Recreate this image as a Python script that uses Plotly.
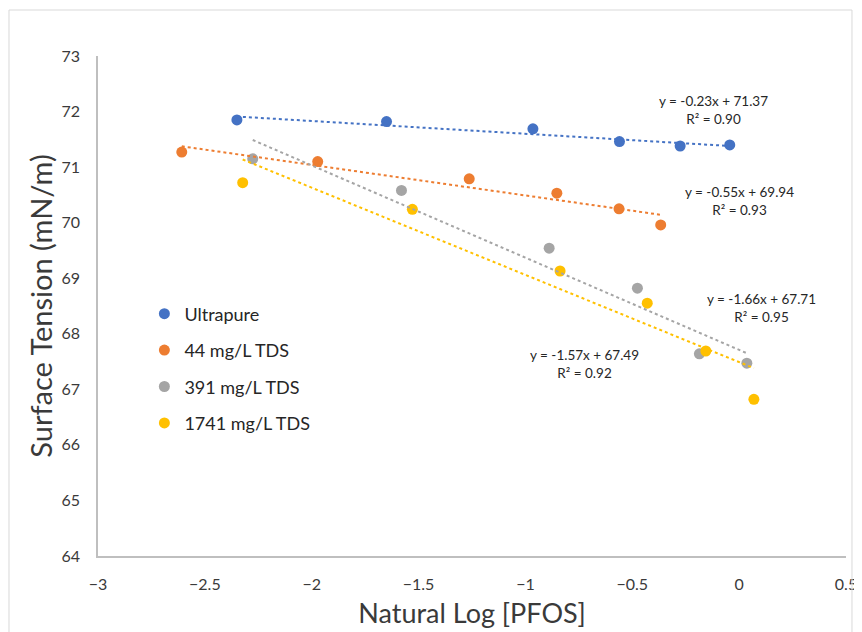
import numpy as np
import plotly.graph_objects as go

# dados
series_names = ["Ultrapure", "44 mg/L TDS", "391 mg/L TDS", "1741 mg/L TDS"]
series_colors = ["#4472C4", "#ED7D31", "#A5A5A5", "#FFC000"]

x_ultrapure = [-2.35, -1.65, -0.965, -0.56, -0.276, -0.044]
y_ultrapure = [71.85, 71.82, 71.69, 71.46, 71.38, 71.40]

x_44 = [-2.608, -1.972, -1.263, -0.853, -0.562, -0.367]
y_44 = [71.27, 71.10, 70.79, 70.53, 70.25, 69.96]

x_391 = [-2.276, -1.580, -0.889, -0.476, -0.186, 0.036]
y_391 = [71.15, 70.58, 69.54, 68.82, 67.64, 67.47]

x_1741 = [-2.323, -1.529, -0.838, -0.430, -0.156, 0.069]
y_1741 = [70.72, 70.24, 69.13, 68.55, 67.69, 66.82]

# equacoes das linhas de tendencia (rotulos do grafico)
slopes = [-0.23, -0.55, -1.66, -1.57]
intercepts = [71.37, 69.94, 67.71, 67.49]
r2_values = ["0.90", "0.93", "0.95", "0.92"]
label_x = [-0.12, 0.0, 0.103, -0.725]
label_y = [72.03, 70.39, 68.47, 67.46]

xs = [x_ultrapure, x_44, x_391, x_1741]
ys = [y_ultrapure, y_44, y_391, y_1741]

FONT = "Lato, 'Open Sans', sans-serif"
TEXT = "#3a3a3a"

fig = go.Figure()

for i, name in enumerate(series_names):
    fig.add_trace(go.Scatter(
        x=xs[i], y=ys[i], mode="markers", name=name,
        legendgroup=name,
        marker=dict(color=series_colors[i], size=11),
    ))

for i, name in enumerate(series_names):
    # linha de tendencia no intervalo dos dados
    xl = np.array([min(xs[i]), max(xs[i])])
    yl = slopes[i] * xl + intercepts[i]
    fig.add_trace(go.Scatter(
        x=xl, y=yl, mode="lines", showlegend=False, legendgroup=name,
        line=dict(color=series_colors[i], width=2, dash="dot"),
        hoverinfo="skip",
    ))
    fig.add_annotation(
        x=label_x[i], y=label_y[i], xref="x", yref="y", showarrow=False,
        text=f"y = {slopes[i]:.2f}x + {intercepts[i]:.2f}<br>R² = {r2_values[i]}",
        font=dict(family=FONT, size=13.5, color="#262626"), align="center",
    )

# borda externa do grafico
fig.add_shape(type="rect", xref="paper", yref="paper",
              x0=-0.119, x1=1.008, y0=-0.2, y1=1.092,
              line=dict(color="#D9D9D9", width=1))

# o body da pagina tem margem de 8px; o que passa da janela e cortado
fig.update_layout(
    width=854, height=640,
    margin=dict(l=90, r=16, t=48, b=92),
    paper_bgcolor="white", plot_bgcolor="white",
    font=dict(family=FONT, color=TEXT),
    legend=dict(
        x=0.062, y=0.521, xanchor="left", yanchor="top",
        font=dict(family=FONT, size=18, color="#262626"),
        tracegroupgap=10, itemwidth=30,
        bgcolor="rgba(0,0,0,0)",
    ),
    xaxis=dict(
        range=[-3, 0.5], dtick=0.5, showgrid=False, zeroline=False,
        showline=True, linecolor="#BFBFBF", linewidth=1.5,
        ticks="outside", ticklen=13, tickcolor="rgba(0,0,0,0)",
        tickfont=dict(size=16, color=TEXT), ticklabeloverflow="allow",
        automargin=False,
        title=dict(text="Natural Log [PFOS]", font=dict(size=27, color=TEXT), standoff=12),
    ),
    yaxis=dict(
        range=[64, 73], dtick=1, showgrid=False, zeroline=False,
        showline=True, linecolor="#BFBFBF", linewidth=1.5,
        ticks="outside", ticklen=13, tickcolor="rgba(0,0,0,0)",
        tickfont=dict(size=16, color=TEXT), ticklabeloverflow="allow",
        automargin=False,
        title=dict(text="Surface Tension (mN/m)", font=dict(size=29, color=TEXT), standoff=0),
    ),
)

fig.write_html("out.html")
